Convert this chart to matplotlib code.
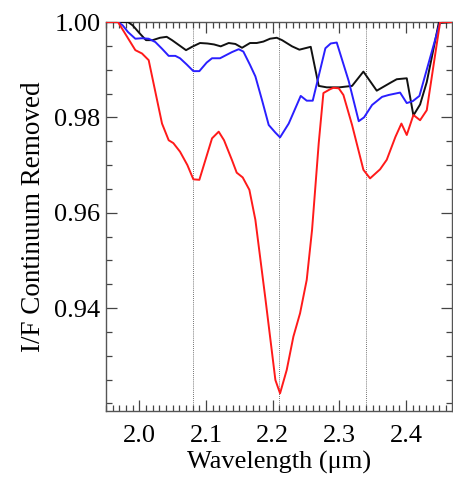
import matplotlib
matplotlib.use("Agg")
import matplotlib.pyplot as plt
from matplotlib.ticker import MultipleLocator, FixedLocator, FormatStrFormatter

plt.rcParams['font.family'] = ['Liberation Serif', 'DejaVu Serif']

# Continuum-removed I/F spectra (wavelength in micrometres)
wl_red = [1.950, 1.968, 1.994, 2.004, 2.014, 2.034, 2.044, 2.051, 2.061, 2.072,
          2.081, 2.090, 2.109, 2.119, 2.127, 2.139, 2.146, 2.155, 2.165, 2.174,
          2.189, 2.204, 2.211, 2.221, 2.231, 2.241, 2.251, 2.259, 2.269, 2.276,
          2.286, 2.291, 2.299, 2.306, 2.319, 2.336, 2.346, 2.361, 2.371, 2.384,
          2.393, 2.401, 2.411, 2.421, 2.431, 2.451, 2.470]
if_red = [1.0000, 1.0000, 0.9941, 0.9934, 0.9920, 0.9787, 0.9752, 0.9746, 0.9728, 0.9700,
          0.9670, 0.9669, 0.9756, 0.9770, 0.9752, 0.9710, 0.9684, 0.9674, 0.9648, 0.9585,
          0.9420, 0.9249, 0.9221, 0.9270, 0.9340, 0.9389, 0.9459, 0.9564, 0.9746, 0.9851,
          0.9859, 0.9862, 0.9861, 0.9847, 0.9784, 0.9690, 0.9672, 0.9691, 0.9711, 0.9759,
          0.9787, 0.9763, 0.9805, 0.9794, 0.9815, 1.0000, 1.0000]

wl_blue = [1.950, 1.968, 1.975, 1.983, 1.994, 2.004, 2.014, 2.024, 2.034, 2.044,
           2.054, 2.061, 2.071, 2.081, 2.090, 2.101, 2.109, 2.121, 2.139, 2.149,
           2.156, 2.166, 2.174, 2.184, 2.194, 2.204, 2.211, 2.224, 2.242, 2.251,
           2.260, 2.279, 2.287, 2.296, 2.314, 2.329, 2.337, 2.349, 2.364, 2.374,
           2.391, 2.401, 2.410, 2.420, 2.451, 2.470]
if_blue = [1.0000, 1.0000, 0.9993, 0.9979, 0.9965, 0.9966, 0.9965, 0.9958, 0.9944, 0.9929,
           0.9929, 0.9924, 0.9911, 0.9897, 0.9897, 0.9915, 0.9924, 0.9924, 0.9937, 0.9943,
           0.9938, 0.9910, 0.9886, 0.9836, 0.9784, 0.9768, 0.9758, 0.9787, 0.9845, 0.9835,
           0.9835, 0.9945, 0.9955, 0.9957, 0.9876, 0.9792, 0.9800, 0.9826, 0.9843, 0.9847,
           0.9852, 0.9830, 0.9834, 0.9845, 1.0000, 1.0000]

wl_black = [1.950, 1.968, 1.983, 1.990, 2.000, 2.010, 2.020, 2.031, 2.041, 2.049,
            2.061, 2.070, 2.079, 2.091, 2.102, 2.112, 2.122, 2.134, 2.144, 2.154,
            2.166, 2.176, 2.186, 2.196, 2.206, 2.214, 2.229, 2.240, 2.257, 2.269,
            2.281, 2.300, 2.319, 2.336, 2.356, 2.377, 2.386, 2.401, 2.411, 2.421,
            2.431, 2.449, 2.470]
if_black = [1.0000, 1.0000, 1.0000, 0.9993, 0.9977, 0.9962, 0.9962, 0.9967, 0.9969, 0.9962,
            0.9950, 0.9941, 0.9948, 0.9956, 0.9955, 0.9953, 0.9949, 0.9956, 0.9954, 0.9946,
            0.9956, 0.9956, 0.9959, 0.9965, 0.9967, 0.9962, 0.9949, 0.9942, 0.9948, 0.9866,
            0.9863, 0.9863, 0.9866, 0.9896, 0.9856, 0.9873, 0.9880, 0.9882, 0.9804, 0.9827,
            0.9874, 0.9998, 1.0000]

# Band centres marked with dotted guides
band_centres = [2.08, 2.21, 2.34]
y_major_ticks = [0.94, 0.96, 0.98, 1.00]

fig = plt.figure(figsize=(4.53, 4.79), dpi=100)
ax = fig.add_axes([0.234, 0.142, 0.764, 0.812])

for xc in band_centres:
    ax.axvline(xc, color='#444444', linestyle=(0, (1, 1.5)), linewidth=0.6, zorder=1)

ax.plot(wl_black, if_black, color='#111111', linewidth=1.4, zorder=3)
ax.plot(wl_blue, if_blue, color='#2a1fff', linewidth=1.4, zorder=4)
ax.plot(wl_red, if_red, color='#ff1a1a', linewidth=1.4, zorder=5)

ax.set_xlim(1.95, 2.469)
ax.set_ylim(0.9184, 1.0)

ax.xaxis.set_major_locator(MultipleLocator(0.1))
ax.xaxis.set_minor_locator(MultipleLocator(0.01))
ax.yaxis.set_major_locator(FixedLocator(y_major_ticks))
ax.yaxis.set_minor_locator(MultipleLocator(0.005))
ax.xaxis.set_major_formatter(FormatStrFormatter('%.1f'))
ax.yaxis.set_major_formatter(FormatStrFormatter('%.2f'))

ax.tick_params(which='both', direction='in', top=True, right=True,
               color='#444444', width=0.9, labelsize=19)
ax.tick_params(which='major', length=8)
ax.tick_params(which='minor', length=4)
ax.tick_params(axis='x', which='major', pad=10)
ax.tick_params(axis='y', which='major', pad=4)
for sp in ax.spines.values():
    sp.set_color('#555555')
    sp.set_linewidth(1.0)

ax.set_xlabel('Wavelength (\u03bcm)', fontsize=19, labelpad=3)
ax.set_ylabel('I/F Continuum Removed', fontsize=19.5, labelpad=6)

fig.savefig('out.png', dpi=100)
